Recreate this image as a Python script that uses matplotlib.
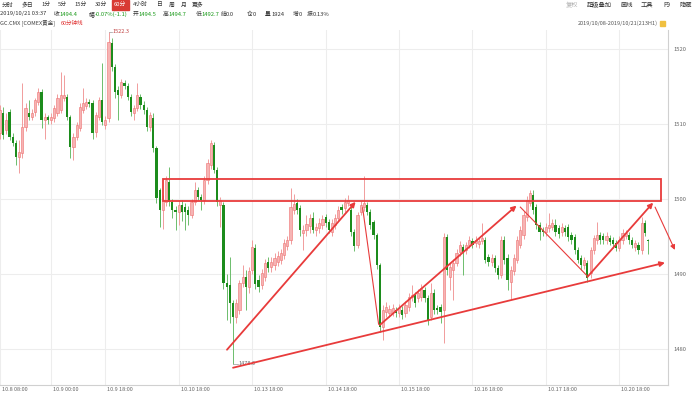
import numpy as np
import matplotlib.pyplot as plt
import matplotlib.transforms as mtransforms
from matplotlib.patches import Rectangle

plt.rcParams['font.family'] = ['Noto Sans CJK SC', 'DejaVu Sans']

# ==============================
# DATA (GC.CMX 60 min candles)
# ==============================
opens = [1508.8, 1511.5, 1509.2, 1511.6, 1508.3, 1507.5, 1505.6, 1506.1, 1509.6, 1511.5,
         1510.9, 1511.6, 1512.9, 1514.3, 1510.5, 1510.9, 1510.5, 1510.8, 1511.5, 1511.9,
         1513.5, 1513.6, 1510.9, 1506.9, 1508.3, 1509.5, 1511.9, 1512.4, 1512.9, 1512.8,
         1508.9, 1510.9, 1513.2, 1509.8, 1510.8, 1520.8, 1517.6, 1514.5, 1513.9, 1515.5,
         1515.1, 1513.6, 1511.5, 1512.1, 1513.6, 1512.5, 1511.9, 1509.6, 1510.8, 1506.8,
         1501.2, 1498.5, 1499.6, 1502.3, 1499.6, 1498.5, 1498.3, 1499.2, 1498.9, 1498.5,
         1497.9, 1499.6, 1501.2, 1500.3, 1499.9, 1502.5, 1504.5, 1507.2, 1503.9, 1499.2,
         1499.2, 1488.8, 1488.5, 1486.1, 1484.3, 1485.2, 1488.8, 1489.6, 1488.3, 1490.5,
         1493.4, 1489.2, 1488.5, 1489.6, 1491.6, 1490.9, 1491.2, 1491.6, 1491.9, 1492.5,
         1493.7, 1494.5, 1498.5, 1499.5, 1498.8, 1495.5, 1495.9, 1496.4, 1497.5, 1495.9,
         1496.1, 1496.5, 1497.6, 1496.9, 1495.6, 1496.5, 1497.5, 1498.9, 1498.8, 1499.5,
         1498.5, 1495.6, 1493.9, 1498.3, 1498.9, 1499.2, 1498.3, 1496.9, 1495.2, 1491.2,
         1482.9, 1484.9, 1484.8, 1484.9, 1485.2, 1484.8, 1485.2, 1484.8, 1485.6, 1486.9,
         1487.2, 1486.8, 1486.9, 1487.9, 1486.8, 1484.3, 1487.5, 1485.5, 1485.6, 1485.2,
         1494.9, 1489.6, 1490.5, 1491.5, 1492.9, 1493.6, 1493.2, 1493.9, 1494.4, 1494.1,
         1494.0, 1494.4, 1494.5, 1492.3, 1491.6, 1492.1, 1490.8, 1489.9, 1494.5, 1492.1,
         1488.9, 1490.4, 1491.9, 1493.9, 1495.2, 1497.6, 1499.5, 1500.5, 1498.9, 1496.5,
         1495.9, 1495.6, 1496.1, 1496.3, 1496.5, 1496.1, 1495.6, 1496.1, 1496.3, 1495.2,
         1494.9, 1493.2, 1492.1, 1491.2, 1491.5, 1490.1, 1493.2, 1494.5, 1495.2, 1495.1,
         1494.5, 1494.8, 1494.5, 1494.1, 1493.5, 1494.5, 1495.1, 1495.2, 1494.5, 1493.6,
         1493.9, 1493.2, 1496.8, 1494.5]
highs = [1512.5, 1512.3, 1511.5, 1512.0, 1508.8, 1507.9, 1507.9, 1515.5, 1512.8, 1513.2,
         1512.0, 1513.5, 1514.8, 1514.7, 1511.5, 1511.2, 1511.5, 1512.5, 1514.0, 1516.9,
         1516.5, 1514.0, 1511.2, 1508.8, 1510.3, 1512.8, 1514.8, 1513.5, 1513.3, 1513.2,
         1511.6, 1513.6, 1518.1, 1511.0, 1522.3, 1521.5, 1518.0, 1515.0, 1516.0, 1515.9,
         1515.5, 1514.0, 1512.5, 1515.5, 1514.0, 1513.0, 1512.3, 1511.6, 1511.5, 1507.0,
         1501.5, 1500.5, 1503.0, 1504.3, 1500.0, 1499.0, 1499.8, 1499.8, 1499.5, 1499.0,
         1500.0, 1502.3, 1501.6, 1500.6, 1503.0, 1505.3, 1507.9, 1507.6, 1504.2, 1500.3,
         1499.6, 1490.0, 1492.3, 1486.5, 1486.6, 1489.2, 1491.2, 1490.5, 1490.9, 1494.5,
         1494.0, 1489.8, 1490.6, 1492.0, 1492.2, 1492.2, 1492.8, 1493.0, 1493.3, 1494.6,
         1495.0, 1501.5, 1500.6, 1500.0, 1499.2, 1496.5, 1497.9, 1498.0, 1498.3, 1496.8,
         1497.4, 1497.8, 1498.0, 1497.3, 1497.3, 1498.0, 1499.0, 1499.3, 1500.1, 1500.5,
         1499.0, 1496.0, 1498.3, 1499.7, 1503.1, 1499.6, 1498.7, 1497.2, 1495.5, 1491.5,
         1485.8, 1486.3, 1485.9, 1486.0, 1485.6, 1486.0, 1485.7, 1486.4, 1487.4, 1488.5,
         1487.6, 1488.0, 1488.6, 1488.3, 1487.2, 1488.8, 1488.0, 1485.9, 1486.0, 1495.4,
         1495.3, 1491.5, 1492.0, 1493.3, 1494.4, 1494.0, 1494.3, 1495.0, 1494.8, 1495.0,
         1494.8, 1496.8, 1494.9, 1492.7, 1492.6, 1492.5, 1491.2, 1495.0, 1495.0, 1492.6,
         1491.0, 1492.6, 1495.0, 1496.4, 1498.4, 1500.4, 1501.2, 1501.2, 1499.3, 1496.9,
         1496.3, 1496.8, 1498.1, 1497.3, 1497.3, 1496.5, 1496.8, 1496.5, 1496.7, 1495.6,
         1495.3, 1493.6, 1492.5, 1492.3, 1491.9, 1493.6, 1495.2, 1496.9, 1495.6, 1495.5,
         1495.6, 1495.2, 1494.9, 1494.5, 1495.0, 1496.0, 1495.9, 1495.6, 1494.9, 1494.5,
         1494.3, 1497.6, 1497.2, 1494.7]
lows = [1508.0, 1508.0, 1508.6, 1507.8, 1507.0, 1504.5, 1503.5, 1505.5, 1509.0, 1510.5,
        1510.5, 1511.0, 1512.5, 1509.5, 1508.0, 1510.0, 1510.0, 1510.3, 1511.0, 1511.5,
        1513.0, 1510.5, 1505.5, 1505.2, 1507.8, 1509.0, 1511.5, 1512.0, 1512.2, 1508.0,
        1508.3, 1510.5, 1509.8, 1509.3, 1510.3, 1517.0, 1513.5, 1510.5, 1513.5, 1514.7,
        1513.2, 1511.0, 1510.5, 1511.7, 1512.0, 1511.3, 1509.0, 1509.0, 1506.3, 1499.5,
        1496.3, 1496.0, 1499.0, 1499.0, 1497.5, 1495.9, 1496.5, 1497.0, 1495.9, 1496.5,
        1497.5, 1499.2, 1499.8, 1498.5, 1499.3, 1502.0, 1504.0, 1503.5, 1499.0, 1496.3,
        1488.0, 1483.9, 1483.5, 1478.0, 1483.5, 1484.7, 1488.3, 1485.2, 1487.5, 1490.0,
        1488.0, 1487.6, 1488.0, 1489.0, 1490.3, 1490.3, 1490.5, 1491.0, 1491.3, 1492.0,
        1493.2, 1494.0, 1498.0, 1498.0, 1495.0, 1493.2, 1495.0, 1495.5, 1495.5, 1495.0,
        1495.5, 1496.0, 1496.3, 1495.4, 1495.0, 1496.0, 1497.0, 1498.0, 1498.3, 1499.0,
        1495.0, 1493.0, 1493.4, 1497.8, 1498.4, 1497.8, 1496.0, 1494.6, 1490.6, 1482.3,
        1481.2, 1484.3, 1484.2, 1484.4, 1484.3, 1484.2, 1484.0, 1484.3, 1485.1, 1486.4,
        1485.6, 1486.3, 1486.4, 1486.3, 1483.2, 1483.8, 1484.7, 1484.6, 1483.5, 1480.8,
        1489.9, 1487.9, 1486.5, 1491.0, 1492.4, 1489.9, 1492.7, 1493.4, 1493.4, 1493.6,
        1493.5, 1494.0, 1491.4, 1491.1, 1491.1, 1490.3, 1489.3, 1489.4, 1491.3, 1487.9,
        1486.6, 1489.9, 1491.4, 1493.4, 1494.7, 1497.1, 1499.0, 1498.0, 1496.0, 1494.5,
        1495.0, 1495.1, 1495.6, 1495.8, 1495.1, 1494.8, 1495.1, 1495.0, 1494.4, 1494.0,
        1492.7, 1491.4, 1490.5, 1490.7, 1488.9, 1489.5, 1492.7, 1494.0, 1494.0, 1494.0,
        1494.0, 1493.8, 1493.5, 1493.0, 1493.0, 1494.0, 1494.6, 1494.0, 1493.4, 1493.1,
        1492.7, 1492.7, 1495.0, 1492.7]
closes = [1511.9, 1508.5, 1510.5, 1508.3, 1507.5, 1505.6, 1506.3, 1509.6, 1512.1, 1510.9,
          1511.5, 1513.2, 1514.3, 1510.5, 1510.9, 1510.5, 1510.9, 1512.1, 1513.5, 1513.9,
          1513.9, 1510.9, 1506.9, 1508.3, 1509.9, 1512.3, 1512.8, 1512.9, 1512.7, 1508.8,
          1511.2, 1513.2, 1510.2, 1510.5, 1520.9, 1517.6, 1514.3, 1513.9, 1515.6, 1515.1,
          1513.6, 1511.6, 1512.1, 1513.9, 1512.5, 1511.9, 1509.6, 1511.2, 1506.8, 1500.1,
          1498.5, 1499.9, 1502.5, 1499.6, 1498.5, 1498.3, 1499.2, 1498.3, 1498.3, 1497.9,
          1499.6, 1501.2, 1500.3, 1499.9, 1502.5, 1504.8, 1507.5, 1503.9, 1499.6, 1499.9,
          1488.8, 1488.3, 1486.1, 1484.3, 1486.1, 1488.8, 1489.6, 1488.3, 1490.4, 1493.6,
          1488.6, 1488.3, 1490.1, 1491.5, 1490.8, 1491.6, 1492.1, 1492.4, 1492.8, 1494.1,
          1494.5, 1498.9, 1499.3, 1498.5, 1495.9, 1495.9, 1496.7, 1497.5, 1495.9, 1496.3,
          1496.8, 1497.3, 1496.8, 1495.9, 1496.8, 1497.5, 1498.5, 1498.5, 1499.6, 1499.9,
          1495.6, 1493.7, 1497.9, 1499.2, 1499.5, 1498.3, 1496.5, 1495.2, 1491.2, 1482.9,
          1485.2, 1485.6, 1485.3, 1485.5, 1484.8, 1485.5, 1484.5, 1485.9, 1486.9, 1487.2,
          1486.1, 1487.5, 1488.1, 1486.8, 1483.9, 1487.5, 1485.2, 1485.2, 1484.9, 1494.9,
          1490.5, 1490.9, 1491.5, 1492.8, 1493.9, 1492.9, 1493.9, 1494.5, 1493.9, 1494.5,
          1494.4, 1494.8, 1491.9, 1491.6, 1492.1, 1490.8, 1489.9, 1494.5, 1491.9, 1489.2,
          1490.5, 1492.1, 1494.5, 1495.9, 1497.9, 1499.9, 1500.8, 1498.5, 1496.5, 1495.6,
          1495.6, 1496.3, 1496.5, 1496.8, 1495.6, 1495.3, 1496.3, 1495.6, 1494.9, 1494.5,
          1493.2, 1491.9, 1491.2, 1491.9, 1489.5, 1493.2, 1494.8, 1495.2, 1494.5, 1494.5,
          1495.1, 1494.3, 1494.0, 1493.5, 1494.5, 1495.5, 1495.5, 1494.5, 1493.9, 1494.1,
          1493.2, 1496.8, 1495.5, 1494.4]

tick_idx = [0, 16, 33, 56, 79, 102, 125, 148, 171, 194]
tick_labels = ["10.8 08:00", "10.9 00:00", "10.9 18:00", "10.10 18:00", "10.13 18:00",
               "10.14 18:00", "10.15 18:00", "10.16 18:00", "10.17 18:00", "10.20 18:00"]
price_ticks = [1480, 1490, 1500, 1510, 1520]

# hand-drawn lines on the chart: (index, price) pairs
zone_box = (51.1, 207.1, 1499.7, 1502.7)
arrows_thick = [((71.1, 1479.9), (111.4, 1499.6)),
                ((119.0, 1483.2), (161.8, 1499.1)),
                ((184.0, 1489.6), (204.6, 1499.5)),
                ((73.0, 1477.5), (208.3, 1491.5))]
lines_thin = [((113.6, 1498.8), (118.6, 1483.3)),
              ((163.0, 1498.9), (183.8, 1489.8))]
arrow_thin = ((205.2, 1498.9), (211.4, 1493.2))

RED = '#e83b3b'
UP_BODY, UP_EDGE, UP_WICK = '#f6b4b4', '#ee7070', '#f19c9c'
DN_BODY, DN_WICK = '#1c8c1c', '#6cbd6c'

# ==============================
# FIGURE
# ==============================
W, H = 692, 394
fig = plt.figure(figsize=(W / 100, H / 100), dpi=100)
fig.patch.set_facecolor('white')


def px(x, y):
    return x / W, 1 - y / H


ax = fig.add_axes([0, 9 / H, 668 / W, 355 / H])
o, h, l, c = map(np.array, (opens, highs, lows, closes))
x = np.arange(len(o))
up = c >= o

ax.vlines(x[up], l[up], h[up], color=UP_WICK, lw=0.7, zorder=2)
ax.vlines(x[~up], l[~up], h[~up], color=DN_WICK, lw=0.7, zorder=2)
body = np.maximum(np.abs(c - o), 0.15)
ax.bar(x[up], body[up], bottom=o[up], width=0.68, color=UP_BODY,
       edgecolor=UP_EDGE, lw=0.4, zorder=3)
ax.bar(x[~up], body[~up], bottom=c[~up], width=0.68, color=DN_BODY, lw=0, zorder=3)

ax.set_xlim(0.5, 209.25)
ax.set_ylim(1475.2, 1522.5)

ax.set_yticks(price_ticks)
ax.yaxis.tick_right()
ax.tick_params(axis='y', length=0, labelsize=4.2, colors='#666666', pad=4)
ax.set_xticks(tick_idx)
ax.set_xticklabels(tick_labels)
ax.tick_params(axis='x', length=0, labelsize=4.0, colors='#666666', pad=1.5)
offset = mtransforms.ScaledTranslation(2 / 100, 0, fig.dpi_scale_trans)
for lab in ax.get_xticklabels():
    lab.set_horizontalalignment('left')
    lab.set_transform(lab.get_transform() + offset)
ax.grid(color='#ededed', lw=0.8, zorder=0)
for s in ['top', 'left']:
    ax.spines[s].set_visible(False)
for s in ['right', 'bottom']:
    ax.spines[s].set_color('#d0d0d0')
    ax.spines[s].set_linewidth(0.8)

# drawn annotations
x0, x1, y0, y1 = zone_box
ax.add_patch(Rectangle((x0, y0), x1 - x0, y1 - y0, fill=False, ec=RED, lw=1.3,
                       zorder=5, clip_on=False))
for (a, b) in arrows_thick:
    ax.annotate('', xy=b, xytext=a, zorder=6, annotation_clip=False,
                arrowprops=dict(arrowstyle='-|>', color=RED, lw=1.3,
                                mutation_scale=7, shrinkA=0, shrinkB=0))
for (a, b) in lines_thin:
    ax.plot([a[0], b[0]], [a[1], b[1]], color=RED, lw=0.8, zorder=6)
ax.annotate('', xy=arrow_thin[1], xytext=arrow_thin[0], zorder=6, annotation_clip=False,
            arrowprops=dict(arrowstyle='-|>', color=RED, lw=0.8,
                            mutation_scale=7, shrinkA=0, shrinkB=0))

# high / low labels
hi_i = int(np.argmax(h))
lo_i = int(np.argmin(l))
ax.plot([hi_i, hi_i + 1.2], [h[hi_i], h[hi_i]], color='#999999', lw=0.5, zorder=4)
ax.text(hi_i + 1.4, h[hi_i], f"{h[hi_i]:.1f}", fontsize=4.0, color='#c04040',
        va='center', ha='left', zorder=4)
ax.plot([lo_i, lo_i + 1.6], [l[lo_i], l[lo_i]], color='#999999', lw=0.5, zorder=4)
ax.text(lo_i + 1.8, l[lo_i], f"{l[lo_i]:.1f}", fontsize=4.0, color='#666666',
        va='center', ha='left', zorder=4)

# ==============================
# HEADER
# ==============================
fs = 4.2
buttons = [("分时", 2), ("多日", 22), ("1分", 41), ("5分", 58), ("15分", 74), ("30分", 95),
           ("60分", 114), ("4小时", 133), ("日", 157), ("周", 169), ("月", 181), ("更多", 192)]
for name, bx in buttons:
    if name == "60分":
        fig.patches.append(Rectangle(px(112, 10), 17 / W, 10 / H, transform=fig.transFigure,
                                     color='#d83a34', zorder=1))
        fig.text(*px(bx, 5), name, fontsize=fs, color='white', va='center', ha='left')
    else:
        fig.text(*px(bx, 5), name, fontsize=fs, color='#333333', va='center', ha='left')

info = [("2019/10/21 03:37", 0, '#333333'), ("收", 54, '#333333'), ("1494.4", 59, '#1a9a1a'),
        ("幅", 89, '#333333'), ("-0.07%(-1.1)", 95, '#1a9a1a'), ("开", 133, '#333333'),
        ("1494.5", 138, '#1a9a1a'), ("高", 163, '#333333'), ("1494.7", 168, '#1a9a1a'),
        ("低", 196, '#333333'), ("1492.7", 201, '#1a9a1a'), ("结", 221, '#333333'),
        ("0.0", 226, '#333333'), ("仓", 247, '#333333'), ("0", 253, '#333333'),
        ("量", 265, '#333333'), ("1924", 271, '#333333'), ("增", 293, '#333333'),
        ("0", 299, '#333333'), ("振", 307, '#333333'), ("0.13%", 313, '#333333')]
for t, tx, col in info:
    fig.text(*px(tx, 14), t, fontsize=fs, color=col, va='center', ha='left')

fig.text(*px(0, 23), "GC.CMX [COMEX黄金]", fontsize=4.0, color='#444444', va='center', ha='left')
fig.text(*px(61, 23), "60分钟线", fontsize=4.0, color='#e03030', va='center', ha='left')

tools = [("复权", 566, '#b0b0b0'), ("超级叠加", 587, '#333333'), ("画线", 620, '#333333'),
         ("工具", 641, '#333333'), ("F9", 663, '#333333'), ("隐藏", 679, '#333333')]
for t, tx, col in tools:
    fig.text(*px(tx, 5), t, fontsize=4.5, color=col, va='center', ha='left')

fig.text(*px(578, 23), "2019/10/08-2019/10/21(213H1)", fontsize=4.0, color='#555555',
         va='center', ha='left')
fig.patches.append(Rectangle(px(660, 26), 5 / W, 5 / H, transform=fig.transFigure,
                             color='#f0c040', zorder=1))

fig.savefig("out.png", dpi=100, facecolor='white')
